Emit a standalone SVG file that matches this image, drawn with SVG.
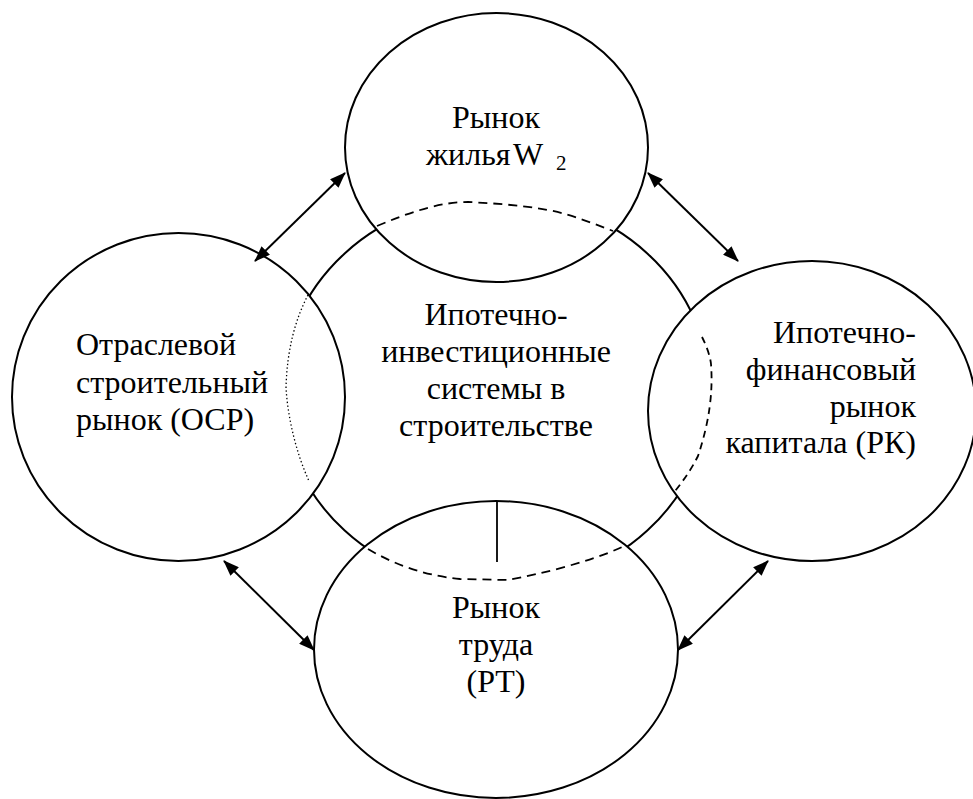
<svg xmlns="http://www.w3.org/2000/svg" width="973" height="799" viewBox="0 0 973 799">
  <defs>
    <marker id="head-end" viewBox="0 0 16 12" refX="15" refY="6" markerWidth="16" markerHeight="12" markerUnits="userSpaceOnUse" orient="auto">
      <path d="M0,0 L16,6 L0,12 z" fill="#000"/>
    </marker>
    <marker id="head-start" viewBox="0 0 16 12" refX="1" refY="6" markerWidth="16" markerHeight="12" markerUnits="userSpaceOnUse" orient="auto">
      <path d="M16,0 L0,6 L16,12 z" fill="#000"/>
    </marker>
  </defs>

  <rect x="0" y="0" width="973" height="799" fill="#fff"/>

  <!-- central system; the surrounding markets are filled white and cover its outline -->
  <g id="mortgage-investment-systems">
    <ellipse cx="496" cy="392" rx="214" ry="196" fill="none" stroke="#000" stroke-width="2"/>
    <text style="font-family:'Liberation Serif','Times New Roman',serif;font-size:32px" text-anchor="middle" x="496" y="325">Ипотечно-</text>
    <text style="font-family:'Liberation Serif','Times New Roman',serif;font-size:32px" text-anchor="middle" x="496" y="362">инвестиционные</text>
    <text style="font-family:'Liberation Serif','Times New Roman',serif;font-size:32px" text-anchor="middle" x="496" y="399">системы в</text>
    <text style="font-family:'Liberation Serif','Times New Roman',serif;font-size:32px" text-anchor="middle" x="496" y="436">строительстве</text>
  </g>

  <g id="housing-market">
    <ellipse cx="496.5" cy="147.5" rx="151.5" ry="134.5" fill="#fff" stroke="#000" stroke-width="2"/>
    <text style="font-family:'Liberation Serif','Times New Roman',serif;font-size:32px" text-anchor="middle" x="496" y="128">Рынок</text>
    <text style="font-family:'Liberation Serif','Times New Roman',serif;font-size:32px" x="426" y="165">жилья<tspan x="513">W</tspan><tspan x="556" dy="5" style="font-size:21px">2</tspan></text>
  </g>

  <g id="construction-market">
    <ellipse cx="178.5" cy="397" rx="166.5" ry="164" fill="#fff" stroke="#000" stroke-width="2"/>
    <text style="font-family:'Liberation Serif','Times New Roman',serif;font-size:32px" x="76" y="355">Отраслевой</text>
    <text style="font-family:'Liberation Serif','Times New Roman',serif;font-size:32px" x="76" y="393">строительный</text>
    <text style="font-family:'Liberation Serif','Times New Roman',serif;font-size:32px" x="76" y="430">рынок (ОСР)</text>
  </g>

  <g id="capital-market">
    <ellipse cx="812" cy="411" rx="164" ry="150" fill="#fff" stroke="#000" stroke-width="2"/>
    <text style="font-family:'Liberation Serif','Times New Roman',serif;font-size:32px" text-anchor="end" x="916" y="343">Ипотечно-</text>
    <text style="font-family:'Liberation Serif','Times New Roman',serif;font-size:32px" text-anchor="end" x="916" y="380">финансовый</text>
    <text style="font-family:'Liberation Serif','Times New Roman',serif;font-size:32px" text-anchor="end" x="916" y="417">рынок</text>
    <text style="font-family:'Liberation Serif','Times New Roman',serif;font-size:32px" text-anchor="end" x="916" y="453">капитала (РК)</text>
  </g>

  <g id="labour-market">
    <ellipse cx="496" cy="649.5" rx="182" ry="148.5" fill="#fff" stroke="#000" stroke-width="2"/>
    <text style="font-family:'Liberation Serif','Times New Roman',serif;font-size:32px" text-anchor="middle" x="496" y="618">Рынок</text>
    <text style="font-family:'Liberation Serif','Times New Roman',serif;font-size:32px" text-anchor="middle" x="496" y="655">труда</text>
    <text style="font-family:'Liberation Serif','Times New Roman',serif;font-size:32px" text-anchor="middle" x="496" y="692">(РТ)</text>
  </g>

  <!-- where the central system runs through each market: dashed / dotted boundaries -->
  <g id="overlap-boundaries" fill="none" stroke="#000">
    <path stroke-width="1.8" stroke-dasharray="9 6" d="M377,226 C410,212 440,202 468,202 C510,204 545,208 565,214 C585,220 600,226 613,231"/>
    <path stroke-width="1.8" stroke-dasharray="9 6" d="M368,549 C390,562 420,575 460,579 L508,580 C540,574 590,562 622,547"/>
    <path stroke-width="1.8" stroke-dasharray="7 5" d="M702,337 C706,345 710,355 711,364 C713,390 710,420 698,456 C692,468 684,480 675,491"/>
    <path stroke-width="1.3" stroke-dasharray="1.4 2.4" d="M308,295 C295,320 287,350 286,388 C288,420 297,455 309,481"/>
    <line x1="497" y1="501" x2="497" y2="562" stroke-width="1.8"/>
  </g>

  <g id="connectors" fill="none" stroke="#000" stroke-width="2">
    <line x1="255" y1="261" x2="345" y2="173" marker-start="url(#head-start)" marker-end="url(#head-end)"/>
    <line x1="648" y1="173" x2="738" y2="261" marker-start="url(#head-start)" marker-end="url(#head-end)"/>
    <line x1="224" y1="561" x2="314" y2="650" marker-start="url(#head-start)" marker-end="url(#head-end)"/>
    <line x1="768" y1="561" x2="678" y2="650" marker-start="url(#head-start)" marker-end="url(#head-end)"/>
  </g>
</svg>
